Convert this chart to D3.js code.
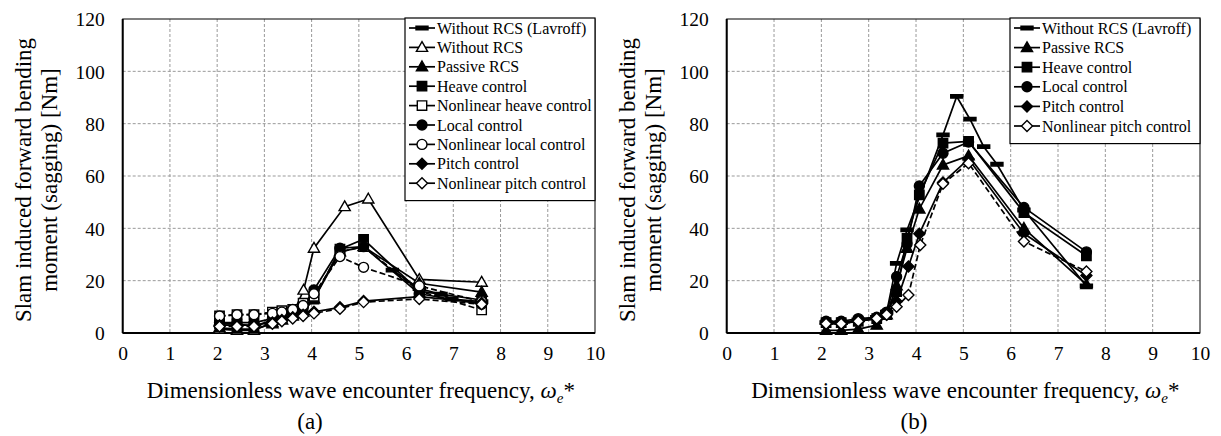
<!DOCTYPE html>
<html>
<head>
<meta charset="utf-8">
<script src="https://cdn.jsdelivr.net/npm/d3@7/dist/d3.min.js"></script>
<style>
  html, body { margin: 0; padding: 0; background: #fff; }
  svg { display: block; }
  svg text { font-family: "Liberation Serif", "Times New Roman", Times, serif; }
</style>
</head>
<body>
<svg id="chart" width="1221" height="436" font-family="Liberation Serif, Times New Roman, serif"></svg>
<script>
const SERIF = "Liberation Serif, Times New Roman, serif";

// ---- Axis ticks ----
const xTicks = [0, 1, 2, 3, 4, 5, 6, 7, 8, 9, 10];
const yTicks = [0, 20, 40, 60, 80, 100, 120];

// ---- Panel (a): slam-induced sagging moment, model tests ----
const freqA      = [2.05, 2.42, 2.78, 3.17, 3.37, 3.6, 3.82, 4.05, 4.6, 5.1, 6.28, 7.6];
const freqA_noRcs = [2.05, 2.42, 2.78, 3.17, 3.37, 3.6, 3.83, 4.05, 4.7, 5.2, 6.28, 7.6];
const freqA_lavroff = [5.71, 6.28, 6.74, 6.97, 7.6];
const a_lavroff      = [24, 17, 14.8, 13, 12];
const a_noRcs        = [1.5, 1, 1, 4, 5, 7, 16.4, 32.4, 48.3, 51.2, 20.5, 19.4];
const a_passive      = [2, 1.5, 1.5, 3.5, 5, 6.5, 8, 13, 31, 33, 19, 15.6];
const a_heave        = [3.5, 3.5, 2.5, 5, 6, 8, 9, 13, 32, 35.8, 16, 12.6];
const a_heaveNl      = [6.5, 7, 7, 8, 8.5, 9, 11.4, 14, 31, 33, 16, 8.8];
const a_local        = [4, 4, 4, 5.5, 6.5, 8, 10, 16.5, 32.4, 33, 15, 11];
const a_localNl      = [6.5, 7, 7, 7.5, 8, 9, 10.5, 15, 29.2, 25.1, 18, 12];
const a_pitch        = [3, 3, 3, 4, 5, 6, 7, 8.1, 9.8, 12.2, 13.9, 11.5];
const a_pitchNl      = [2.5, 2.5, 2.5, 3.5, 4.5, 5.5, 6.5, 7.5, 9.3, 11.8, 13, 11];

// ---- Panel (b) ----
const freqB        = [2.1, 2.42, 2.78, 3.17, 3.38, 3.59, 3.81, 4.07, 4.57, 5.11, 6.28, 7.6];
const freqB_pitch  = [2.1, 2.42, 2.78, 3.17, 3.38, 3.59, 3.84, 4.07, 4.57, 5.11, 6.28, 7.6];
const freqB_pitchNl = [2.1, 2.42, 2.78, 3.17, 3.38, 3.59, 3.84, 4.09, 4.57, 5.11, 6.28, 7.6];
const freqB_lavroff = [2.1, 2.42, 2.78, 3.17, 3.38, 3.59, 3.81, 4.57, 4.86, 5.14, 5.43, 5.71, 6.28, 7.6];
const b_lavroff    = [4, 4, 5, 6, 8, 26.6, 39.4, 75.7, 90.4, 81.7, 71.2, 64.5, 47, 18];
const b_passive    = [1, 1, 1.5, 3, 7, 18, 32.4, 47.4, 64.2, 67.7, 40, 18.5];
const b_heave      = [4, 4, 4.5, 5.5, 7, 15.8, 36.2, 52.8, 72.6, 73.2, 46, 29.5];
const b_local      = [4.5, 4.5, 5.5, 6, 8, 21.5, 34, 56.2, 68.7, 73, 48, 31];
const b_pitch      = [3.5, 3.5, 4.5, 5.5, 7, 12, 25.4, 37.9, 57.5, 66.5, 38, 22];
const b_pitchNl    = [3.5, 3.5, 4.5, 5.5, 7, 10, 14.5, 33.6, 57, 64.9, 35, 23.5];

// ---- Series definitions (label, marker, fill, dash) ----
const seriesA = [
  { name: "Without RCS (Lavroff)",     x: freqA_lavroff, y: a_lavroff, marker: "bar",      fill: "#000", dash: null },
  { name: "Without RCS",               x: freqA_noRcs,   y: a_noRcs,   marker: "triangle", fill: "#fff", dash: null },
  { name: "Passive RCS",               x: freqA,         y: a_passive, marker: "triangle", fill: "#000", dash: null },
  { name: "Heave control",             x: freqA,         y: a_heave,   marker: "square",   fill: "#000", dash: null },
  { name: "Nonlinear heave control",   x: freqA,         y: a_heaveNl, marker: "square",   fill: "#fff", dash: "6,3" },
  { name: "Local control",             x: freqA,         y: a_local,   marker: "circle",   fill: "#000", dash: null },
  { name: "Nonlinear local control",   x: freqA,         y: a_localNl, marker: "circle",   fill: "#fff", dash: "6,3" },
  { name: "Pitch control",             x: freqA,         y: a_pitch,   marker: "diamond",  fill: "#000", dash: null },
  { name: "Nonlinear pitch control",   x: freqA,         y: a_pitchNl, marker: "diamond",  fill: "#fff", dash: "6,3" }
];
const seriesB = [
  { name: "Without RCS (Lavroff)",     x: freqB_lavroff, y: b_lavroff, marker: "bar",      fill: "#000", dash: null },
  { name: "Passive RCS",               x: freqB,         y: b_passive, marker: "triangle", fill: "#000", dash: null },
  { name: "Heave control",             x: freqB,         y: b_heave,   marker: "square",   fill: "#000", dash: null },
  { name: "Local control",             x: freqB,         y: b_local,   marker: "circle",   fill: "#000", dash: null },
  { name: "Pitch control",             x: freqB_pitch,   y: b_pitch,   marker: "diamond",  fill: "#000", dash: null },
  { name: "Nonlinear pitch control",   x: freqB_pitchNl, y: b_pitchNl, marker: "diamond",  fill: "#fff", dash: "6,3" }
];

const svg = d3.select("#chart");

// Marker path generators, centred on the origin
function markerPath(kind) {
  switch (kind) {
    case "triangle": return "M0,-5.8L5.6,4L-5.6,4Z";
    case "square":   return "M-4.7,-4.7H4.7V4.7H-4.7Z";
    case "circle":   return d3.symbol(d3.symbolCircle, 78)();
    case "diamond":  return "M0,-5.5L5.5,0L0,5.5L-5.5,0Z";
    case "bar":      return "M-6,-1.7H6V1.7H-6Z";
  }
}

function drawPanel(opt) {
  const { left, right, top, bottom, series, legend, caption, captionX } = opt;
  const x = d3.scaleLinear().domain([0, 10]).range([left, right]);
  const y = d3.scaleLinear().domain([0, 120]).range([bottom, top]);
  const g = svg.append("g").attr("font-family", SERIF);

  // grid
  g.append("g").selectAll("line").data(xTicks.slice(1, -1)).join("line")
    .attr("x1", d => x(d)).attr("x2", d => x(d)).attr("y1", top).attr("y2", bottom)
    .attr("stroke", "#999").attr("stroke-width", 1).attr("stroke-dasharray", "3,2");
  g.append("g").selectAll("line").data(yTicks.slice(1, -1)).join("line")
    .attr("y1", d => y(d)).attr("y2", d => y(d)).attr("x1", left).attr("x2", right)
    .attr("stroke", "#999").attr("stroke-width", 1).attr("stroke-dasharray", "3,2");

  // axes (labels only, no tick marks)
  const xAxis = d3.axisBottom(x).tickValues(xTicks).tickSize(0).tickPadding(13).tickFormat(d3.format("d"));
  const yAxis = d3.axisLeft(y).tickValues(yTicks).tickSize(0).tickPadding(18).tickFormat(d3.format("d"));
  g.append("g").attr("transform", `translate(0,${bottom})`).call(xAxis)
    .attr("font-family", SERIF).attr("font-size", 19.5)
    .call(s => s.select(".domain").remove())
    .selectAll("text").attr("font-size", 19.5).attr("font-family", SERIF).attr("fill", "#000");
  g.append("g").attr("transform", `translate(${left},0)`).call(yAxis)
    .attr("font-family", SERIF).attr("font-size", 19.5)
    .call(s => s.select(".domain").remove())
    .selectAll("text").attr("font-size", 19.5).attr("font-family", SERIF).attr("fill", "#000")
    .attr("dy", "0.35em");

  // plot frame
  g.append("rect").attr("x", left).attr("y", top).attr("width", right - left).attr("height", bottom - top)
    .attr("fill", "none").attr("stroke", "#000").attr("stroke-width", 1);
  g.append("line").attr("x1", left).attr("x2", right).attr("y1", bottom).attr("y2", bottom)
    .attr("stroke", "#000").attr("stroke-width", 2);
  g.append("line").attr("x1", left).attr("x2", left).attr("y1", top).attr("y2", bottom)
    .attr("stroke", "#000").attr("stroke-width", 2);

  // series lines then markers
  const line = d3.line().x(d => x(d[0])).y(d => y(d[1]));
  series.forEach(s => {
    const pts = s.x.map((v, i) => [v, s.y[i]]);
    g.append("path").datum(pts).attr("d", line)
      .attr("fill", "none").attr("stroke", "#000").attr("stroke-width", 1.7)
      .attr("stroke-dasharray", s.dash);
  });
  series.forEach(s => {
    const pts = s.x.map((v, i) => [v, s.y[i]]);
    g.append("g").selectAll("path").data(pts).join("path")
      .attr("d", markerPath(s.marker))
      .attr("transform", d => `translate(${x(d[0])},${y(d[1])})`)
      .attr("fill", s.fill).attr("stroke", "#000").attr("stroke-width", 1.4);
  });

  // legend
  const lg = g.append("g");
  const rowH = legend.rowH;
  lg.append("rect").attr("x", legend.x).attr("y", legend.y)
    .attr("width", right - legend.x).attr("height", series.length * rowH + 8)
    .attr("fill", "#fff").attr("stroke", "#000").attr("stroke-width", 1.2);
  series.forEach((s, i) => {
    const cy = legend.y + 10 + i * rowH;
    const x0 = legend.x + 4, x1 = legend.x + 30;
    lg.append("line").attr("x1", x0).attr("x2", x1).attr("y1", cy).attr("y2", cy)
      .attr("stroke", "#000").attr("stroke-width", 1.7);
    lg.append("path").attr("d", markerPath(s.marker))
      .attr("transform", `translate(${(x0 + x1) / 2},${cy})`)
      .attr("fill", s.fill).attr("stroke", "#000").attr("stroke-width", 1.4);
    lg.append("text").attr("x", x1 + 2).attr("y", cy).attr("dy", "0.35em")
      .attr("font-family", SERIF).attr("font-size", 16).attr("fill", "#000").text(s.name);
  });

  // axis titles
  const yt = svg.append("text").attr("font-family", SERIF).attr("font-size", 23).attr("fill", "#000")
    .attr("text-anchor", "middle")
    .attr("transform", `translate(${left - 92},${(top + bottom) / 2 + 4}) rotate(-90)`);
  yt.append("tspan").attr("x", 0).attr("dy", 0).text("Slam induced forward bending");
  yt.append("tspan").attr("x", 0).attr("dy", 26).text("moment (sagging) [Nm]");

  const xt = svg.append("text").attr("font-family", SERIF).attr("font-size", 23).attr("fill", "#000")
    .attr("text-anchor", "middle").attr("x", (left + right) / 2 + 2).attr("y", 398);
  xt.append("tspan").text("Dimensionless wave encounter frequency, ");
  xt.append("tspan").attr("font-style", "italic").text("ω");
  xt.append("tspan").attr("font-style", "italic").attr("font-size", 15).attr("dy", 5).text("e");
  xt.append("tspan").attr("dy", -5).text("*");

  svg.append("text").attr("font-family", SERIF).attr("font-size", 23).attr("fill", "#000")
    .attr("text-anchor", "middle").attr("x", captionX).attr("y", 429).text(caption);
}

drawPanel({ left: 122.7, right: 595, top: 19, bottom: 333, series: seriesA,
  legend: { x: 405, y: 18, rowH: 19.4 }, caption: "(a)", captionX: 310 });
drawPanel({ left: 726.7, right: 1200, top: 19, bottom: 333, series: seriesB,
  legend: { x: 1010, y: 18, rowH: 19.6 }, caption: "(b)", captionX: 914 });
</script>
</body>
</html>
